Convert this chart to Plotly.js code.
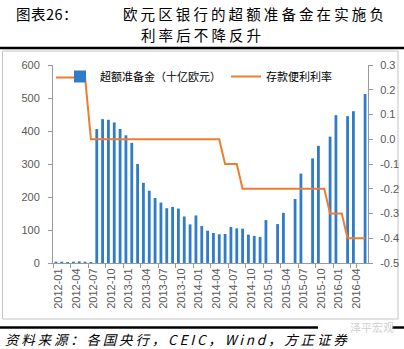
<!DOCTYPE html>
<html><head><meta charset="utf-8">
<script src="https://cdn.plot.ly/plotly-3.0.1.min.js"></script>
<style>html,body{margin:0;padding:0;background:#fff;} #chart{width:404px;height:349px;}</style>
</head><body><div id="chart"></div>
<script>
const months = [
 '2012-01','2012-02','2012-03','2012-04','2012-05','2012-06','2012-07','2012-08','2012-09','2012-10','2012-11','2012-12',
 '2013-01','2013-02','2013-03','2013-04','2013-05','2013-06','2013-07','2013-08','2013-09','2013-10','2013-11','2013-12',
 '2014-01','2014-02','2014-03','2014-04','2014-05','2014-06','2014-07','2014-08','2014-09','2014-10','2014-11','2014-12',
 '2015-01','2015-02','2015-03','2015-04','2015-05','2015-06','2015-07','2015-08','2015-09','2015-10','2015-11','2015-12',
 '2016-01','2016-02','2016-03','2016-04','2016-05','2016-06'];
// 超额准备金（十亿欧元）; null = no observation that month
const excessReserves = [
 4,4,3,4,5,4,3,406,436,434,426,406,
 387,364,300,243,219,197,183,166,170,165,141,117,
 144,112,98,91,87,88,109,105,104,86,82,79,
 130,null,118,152,null,194,271,null,317,355,null,383,
 448,null,445,460,null,512];
// 存款便利利率 (%)
const depositRate = [
 0.25,0.25,0.25,0.25,0.25,0.25,0,0,0,0,0,0,
 0,0,0,0,0,0,0,0,0,0,0,0,
 0,0,0,0,0,-0.1,-0.1,-0.1,-0.2,-0.2,-0.2,-0.2,
 -0.2,-0.2,-0.2,-0.2,-0.2,-0.2,-0.2,-0.2,-0.2,-0.2,-0.2,-0.3,
 -0.3,-0.3,-0.4,-0.4,-0.4,-0.4];
const xTickLabels = ['2012-01','2012-04','2012-07','2012-10','2013-01','2013-04','2013-07','2013-10',
 '2014-01','2014-04','2014-07','2014-10','2015-01','2015-04','2015-07','2015-10','2016-01','2016-04'];
const leftTicks = [0,100,200,300,400,500,600];
const rightTickVals = [-0.5,-0.4,-0.3,-0.2,-0.1,0,0.1,0.2,0.3];
const rightTickText = ['-0.5','-0.4','-0.3','-0.2','-0.1','0.0','0.1','0.2','0.3'];
const seriesNames = ['超额准备金（十亿欧元）','存款便利利率'];
const titleLabel = '图表26：';
const titleLine1 = '欧元区银行的超额准备金在实施负';
const titleLine2 = '利率后不降反升';
const sourceText = '资料来源：各国央行，CEIC，Wind，方正证券';
const watermark = '泽平宏观';

const W = 404, H = 349, L = 53, R = 368, T = 65, B = 263;
const px = v => (v - L) / (R - L);
const py = v => (B - v) / (B - T);
const axisGray = '#9a9a9a';
const tickFont = {family: 'Liberation Sans, Arial, sans-serif', size: 11, color: '#595959'};
const cjk = 'Noto Sans CJK SC, sans-serif';

const traces = [
 {type: 'bar', x: months, y: excessReserves, name: seriesNames[0], width: 0.48,
  marker: {color: '#2f7cca', line: {width: 0}}},
 {type: 'scatter', mode: 'lines', x: months, y: depositRate, name: seriesNames[1], yaxis: 'y2',
  line: {color: '#ed7d31', width: 2}}
];

const layout = {
 width: W, height: H,
 margin: {l: L, r: W - R, t: T, b: H - B, pad: 0},
 paper_bgcolor: '#fff', plot_bgcolor: '#fff',
 showlegend: true,
 legend: {orientation: 'h', x: px(60), y: py(62), xanchor: 'left', yanchor: 'top',
  font: {family: cjk, size: 11, color: '#000'}, bgcolor: 'rgba(0,0,0,0)', traceorder: 'normal'},
 xaxis: {type: 'category', range: [-0.5, months.length - 0.5], tickson: 'boundaries',
  tickmode: 'array', tickvals: xTickLabels, ticktext: xTickLabels, tickangle: -90,
  ticks: 'outside', ticklen: 4, tickcolor: axisGray, showline: true, linecolor: axisGray, linewidth: 1,
  showgrid: false, zeroline: false, tickfont: tickFont, ticklabelshift: 3},
 yaxis: {range: [0, 600], tickmode: 'array', tickvals: leftTicks, ticks: 'outside', ticklen: 4,
  tickcolor: axisGray, showline: true, linecolor: axisGray, showgrid: false, zeroline: false,
  tickfont: tickFont, ticklabelstandoff: 6},
 yaxis2: {overlaying: 'y', side: 'right', range: [-0.5, 0.3], tickmode: 'array',
  tickvals: rightTickVals, ticktext: rightTickText, ticks: 'outside', ticklen: 4, tickcolor: axisGray,
  showline: true, linecolor: axisGray, showgrid: false, zeroline: false, tickfont: tickFont,
  ticklabelstandoff: 5},
 shapes: [
  {type: 'rect', xref: 'paper', yref: 'paper', x0: px(2.5), x1: px(398), y0: py(319), y1: py(51),
   line: {color: '#c4c4c4', width: 1}, fillcolor: 'rgba(0,0,0,0)', layer: 'below'},
  {type: 'line', xref: 'paper', yref: 'paper', x0: px(0), x1: px(404), y0: py(48), y1: py(48),
   line: {color: '#000', width: 2.5}},
  {type: 'line', xref: 'paper', yref: 'paper', x0: px(0), x1: px(318), y0: py(327.5), y1: py(327.5),
   line: {color: '#000', width: 2.5}},
  {type: 'line', xref: 'paper', yref: 'paper', x0: px(392), x1: px(404), y0: py(327.5), y1: py(327.5),
   line: {color: '#000', width: 2.5}}
 ],
 annotations: [
  {xref: 'paper', yref: 'paper', x: px(14), y: py(13), xanchor: 'left', yanchor: 'middle', showarrow: false,
   text: '<span style="letter-spacing:0.5px">' + titleLabel + '</span>', font: {family: cjk, size: 14.5, color: '#000'}},
  {xref: 'paper', yref: 'paper', x: px(121), y: py(13), xanchor: 'left', yanchor: 'middle', showarrow: false,
   text: '<span style="letter-spacing:3.1px">' + titleLine1 + '</span>', font: {family: cjk, size: 14.5, color: '#000'}},
  {xref: 'paper', yref: 'paper', x: px(139), y: py(34), xanchor: 'left', yanchor: 'middle', showarrow: false,
   text: '<span style="letter-spacing:3.1px">' + titleLine2 + '</span>', font: {family: cjk, size: 14.5, color: '#000'}},
  {xref: 'paper', yref: 'paper', x: px(4), y: py(338.5), xanchor: 'left', yanchor: 'middle', showarrow: false,
   borderpad: 0,
   text: '<i><span style="letter-spacing:2.8px">' + sourceText + '</span></i>', font: {family: cjk, size: 13.5, color: '#000'}},
  {xref: 'paper', yref: 'paper', x: px(372), y: py(327), xanchor: 'center', yanchor: 'middle', showarrow: false,
   text: watermark, font: {family: cjk, size: 11, color: '#cfcfcf'}}
 ]
};
Plotly.newPlot('chart', traces, layout, {displayModeBar: false, staticPlot: true});
</script></body></html>
